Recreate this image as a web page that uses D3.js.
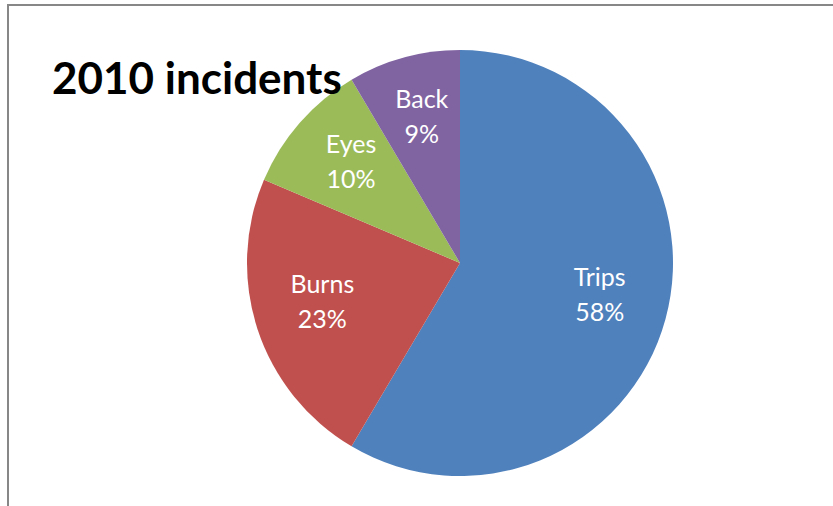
<!DOCTYPE html>
<html>
<head>
<meta charset="utf-8">
<script src="https://cdn.jsdelivr.net/npm/d3@7"></script>
<style>
  body { margin: 0; background: #fff; }
  svg { display: block; }
</style>
</head>
<body>
<svg id="chart"></svg>
<script>
// incident share per category
var categories = ["Trips", "Burns", "Eyes", "Back"];
var values = [58.5, 22.9, 10.1, 8.5];
var labels = ["58%", "23%", "10%", "9%"];
var colors = ["#4F81BD", "#C0504D", "#9BBB59", "#8064A2"];
var title = "2010 incidents";

var width = 833, height = 506;
var cx = 460, cy = 263, radius = 213;

var svg = d3.select("#chart")
    .attr("width", width)
    .attr("height", height);

// chart area frame (only top and left edge visible)
svg.append("path")
    .attr("d", "M8,506 L8,5 L833,5")
    .attr("fill", "none")
    .attr("stroke", "#878787")
    .attr("stroke-width", 2);

var data = categories.map(function(c, i) {
    return {name: c, value: values[i], label: labels[i], color: colors[i]};
});

var pie = d3.pie()
    .sort(null)
    .value(function(d) { return d.value; });

var arc = d3.arc()
    .innerRadius(0)
    .outerRadius(radius);

var labelArc = d3.arc()
    .innerRadius(radius * 0.68)
    .outerRadius(radius * 0.68);

var g = svg.append("g")
    .attr("transform", "translate(" + cx + "," + cy + ")");

var slices = pie(data);

g.selectAll("path.slice")
    .data(slices)
  .enter().append("path")
    .attr("class", "slice")
    .attr("d", arc)
    .attr("fill", function(d) { return d.data.color; });

var lbl = g.selectAll("text.lbl")
    .data(slices)
  .enter().append("text")
    .attr("class", "lbl")
    .attr("transform", function(d) { return "translate(" + labelArc.centroid(d) + ")"; })
    .attr("text-anchor", "middle")
    .attr("fill", "#fff")
    .style("font-family", "Lato, 'Open Sans', sans-serif")
    .style("font-size", "25px");

lbl.append("tspan")
    .attr("x", 0)
    .attr("y", -15)
    .text(function(d) { return d.data.name; });
lbl.append("tspan")
    .attr("x", 0)
    .attr("y", 20)
    .text(function(d) { return d.data.label; });

svg.append("text")
    .attr("x", 52)
    .attr("y", 94)
    .attr("fill", "#000")
    .style("font-family", "Lato, 'Open Sans', sans-serif")
    .style("font-weight", "bold")
    .style("font-size", "44px")
    .text(title);
</script>
</body>
</html>
